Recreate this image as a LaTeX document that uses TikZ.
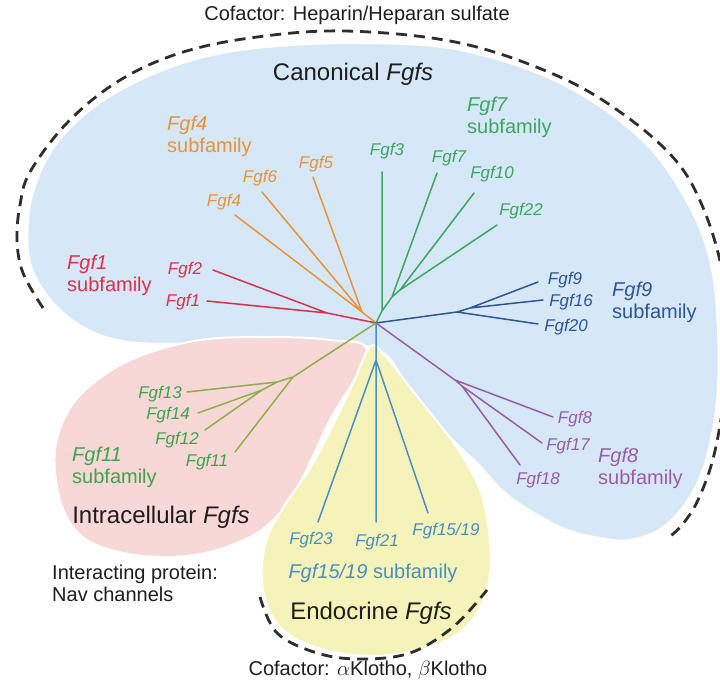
\documentclass[tikz,border=0pt]{standalone}
\usepackage{fontspec}
\setmainfont{Liberation Sans}
\definecolor{bluefill}{HTML}{D6E8F7}
\definecolor{pinkfill}{HTML}{F8D7D7}
\definecolor{yelfill}{HTML}{F5F3BA}
\definecolor{corange}{HTML}{E8923A}
\definecolor{cgreen}{HTML}{3DA660}
\definecolor{cred}{HTML}{D9304C}
\definecolor{cblue}{HTML}{2F5597}
\definecolor{cpurple}{HTML}{9B5BA5}
\definecolor{cteal}{HTML}{4A8FC4}
\definecolor{cgreenb}{HTML}{3FA34A}
\definecolor{colive}{HTML}{8DB048}
\definecolor{dashc}{HTML}{2E2E2E}
\definecolor{txt}{HTML}{1E1E1E}
\begin{document}
\begin{tikzpicture}[x=1pt,y=-1pt,
  leaf/.style={font=\fontsize{17}{19}\selectfont\itshape, inner sep=0pt},
  sub/.style={font=\fontsize{20}{22}\selectfont, align=left, inner sep=0pt, anchor=base west},
  big/.style={font=\fontsize{24}{26}\selectfont, inner sep=0pt, text=txt},
  note/.style={font=\fontsize{20}{22}\selectfont, inner sep=0pt, text=txt},
  br/.style={line width=1.5pt, line cap=round},
  region/.style={draw=white, line width=2pt},
  cof/.style={dash pattern=on 11pt off 7pt, line width=2.8pt, color=dashc}
]
\useasboundingbox (0,0) rectangle (720,684);
\fill[white] (0,0) rectangle (720,684);

% regions
\path[region, fill=bluefill] plot[smooth cycle, tension=0.6] coordinates {
  (28,250) (31,200) (52,150) (90,110) (140,80) (200,58) (267,47) (360,43)
  (460,50) (560,83) (640,138) (686,200) (710,260) (718,330) (717,400)
  (706,460) (688,500) (662,528) (630,540) (600,538) (560,527) (510,497)
  (477,463) (448,435) (410,390) (382,352) (330,342) (250,341) (167,344)
  (117,340) (83,327) (57,307) (37,280)};
\path[region, fill=pinkfill] plot[smooth cycle, tension=0.6] coordinates {
  (367,352) (330,340) (267,337) (200,340) (140,356) (100,378) (70,408)
  (55,450) (60,500) (80,535) (115,551) (160,557) (205,553) (250,537)
  (278,515) (300,483) (330,420)};
\path[region, fill=yelfill] plot[smooth cycle, tension=0.6] coordinates {
  (370,347) (385,356) (420,400) (455,445) (480,490) (490,540) (488,585)
  (468,625) (427,648) (370,656) (318,648) (280,627) (263,590) (265,545)
  (283,508) (315,460) (350,390)};

% cofactor dashed arcs
\draw[cof] plot[smooth, tension=0.6] coordinates {
  (43,308) (23,273) (17,240) (20,205) (30,172) (67,123) (117,82) (177,54)
  (250,38) (345,31) (460,43) (560,77) (627,117) (677,162) (704,210)
  (722,270) (728,330) (725,390) (714,455) (698,500) (682,525) (668,538)};
\draw[cof] plot[smooth, tension=0.6] coordinates {
  (260,597) (277,633) (317,653) (360,659) (410,653) (453,627) (487,590)};

% tree internal points
\coordinate (C) at (376,323);
\coordinate (O) at (362,312);
\coordinate (R) at (327,313);
\coordinate (G1) at (382,311);
\coordinate (G2) at (392,297);
\coordinate (G3) at (400,290);
\coordinate (B1) at (457,312);
\coordinate (B2) at (470,308);
\coordinate (P1) at (455,380);
\coordinate (P2) at (462,386);
\coordinate (A1) at (293,377);
\coordinate (A2) at (277,382);
\coordinate (A3) at (262,390);
\coordinate (T) at (376,360);
% leaf tips
\coordinate (t4) at (235,215);
\coordinate (t6) at (262,192);
\coordinate (t5) at (313,177);
\coordinate (t3) at (382,172);
\coordinate (t7) at (437,173);
\coordinate (t10) at (474,193);
\coordinate (t22) at (497,225);
\coordinate (t2) at (213,270);
\coordinate (t1) at (207,301);
\coordinate (t9) at (538,282);
\coordinate (t16) at (543,300);
\coordinate (t20) at (538,324);
\coordinate (t8) at (553,417);
\coordinate (t17) at (542,443);
\coordinate (t18) at (520,465);
\coordinate (t13) at (187,392);
\coordinate (t14) at (198,413);
\coordinate (t12) at (205,430);
\coordinate (t11) at (235,452);
\coordinate (t23) at (318,522);
\coordinate (t21) at (376,522);
\coordinate (t1519) at (428,513);

% branches
\draw[br, corange] (C) -- (O) (O) -- (t4) (O) -- (t6) (O) -- (t5);
\draw[br, cred] (C) -- (R) (R) -- (t2) (R) -- (t1);
\draw[br, cgreen] (C) -- (G1) -- (G2) -- (G3) (G1) -- (t3) (G2) -- (t7) (G3) -- (t10) (G3) -- (t22);
\draw[br, cblue] (C) -- (B1) -- (B2) (B2) -- (t9) (B2) -- (t16) (B1) -- (t20);
\draw[br, cpurple] (C) -- (P1) -- (P2) (P1) -- (t8) (P2) -- (t17) (P2) -- (t18);
\draw[br, colive] (C) -- (A1) -- (A2) -- (A3) (A1) -- (t11) (A2) -- (t13) (A3) -- (t14) (A3) -- (t12);
\draw[br, cteal] (C) -- (T) (T) -- (t23) (T) -- (t21) (T) -- (t1519);

% leaf labels
\node[leaf, text=corange] (l4) at (224,202) {Fgf4};
\node[leaf, text=corange] (l6) at (260,178) {Fgf6};
\node[leaf, text=corange] (l5) at (316,164) {Fgf5};
\node[leaf, text=cgreen] (l3) at (387,151) {Fgf3};
\node[leaf, text=cgreen] (l7) at (449,158) {Fgf7};
\node[leaf, text=cgreen] (l10) at (492,174) {Fgf10};
\node[leaf, text=cgreen] (l22) at (521,211) {Fgf22};
\node[leaf, text=cred] (l2) at (185,270) {Fgf2};
\node[leaf, text=cred] (l1) at (183,302) {Fgf1};
\node[leaf, text=cblue] (l9) at (565,280) {Fgf9};
\node[leaf, text=cblue] (l16) at (571,302) {Fgf16};
\node[leaf, text=cblue] (l20) at (566,327) {Fgf20};
\node[leaf, text=cpurple] (l8) at (575,419) {Fgf8};
\node[leaf, text=cpurple] (l17) at (568,446) {Fgf17};
\node[leaf, text=cpurple] (l18) at (538,480) {Fgf18};
\node[leaf, text=cgreenb] (l13) at (160,394) {Fgf13};
\node[leaf, text=cgreenb] (l14) at (168,415) {Fgf14};
\node[leaf, text=cgreenb] (l12) at (177,440) {Fgf12};
\node[leaf, text=cgreenb] (l11) at (207,462) {Fgf11};
\node[leaf, text=cteal] (l23) at (311,540) {Fgf23};
\node[leaf, text=cteal] (l21) at (377,542) {Fgf21};
\node[leaf, text=cteal] (l1519) at (446,531) {Fgf15/19};

% subfamily labels (base = last line)
\node[sub, text=corange] (s4) at (167,153) {\textit{Fgf4}\\subfamily};
\node[sub, text=cgreen] (s7) at (467,134) {\textit{Fgf7}\\subfamily};
\node[sub, text=cred] (s1) at (67,292) {\textit{Fgf1}\\subfamily};
\node[sub, text=cblue] (s9) at (612,319) {\textit{Fgf9}\\subfamily};
\node[sub, text=cpurple] (s8) at (598,484) {\textit{Fgf8}\\subfamily};
\node[sub, text=cgreenb] (s11) at (72,483) {\textit{Fgf11}\\subfamily};
\node[font=\fontsize{20}{22}\selectfont, inner sep=0pt, text=cteal] (s1519) at (373,573) {\textit{Fgf15/19} subfamily};

% group labels
\node[big] (canon) at (353,74) {Canonical \textit{Fgfs}};
\node[big] (intra) at (161,517) {Intracellular \textit{Fgfs}};
\node[big] (endo) at (371,613) {Endocrine \textit{Fgfs}};

% notes
\node[note] (cofA) at (357,15) {Cofactor: Heparin/Heparan sulfate};
\node[note, align=left, anchor=base west] (nav) at (52,601) {Interacting protein:\\Nav channels};
\node[note] (cofB) at (368,670) {Cofactor: $\alpha$Klotho, $\beta$Klotho};
\end{tikzpicture}
\end{document}
